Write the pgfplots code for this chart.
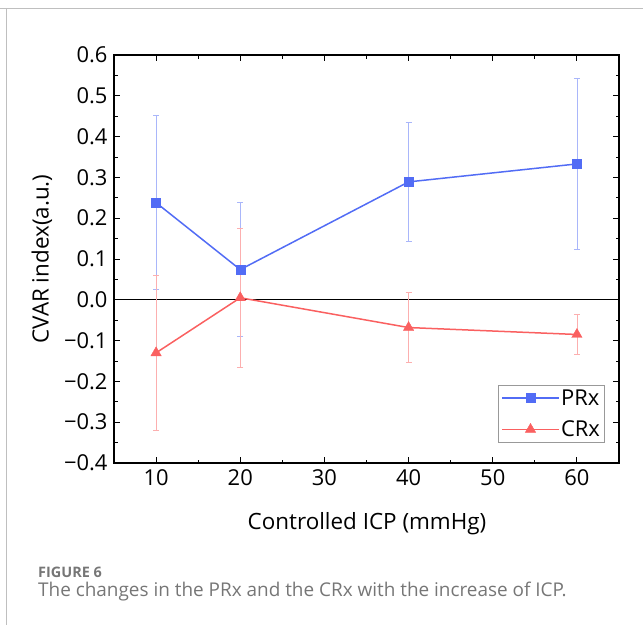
\documentclass[border=0pt]{standalone}
\usepackage{pgfplots}
\pgfplotsset{compat=1.18}
\usepackage{fontspec}
\setmainfont{Open Sans}
\definecolor{cblue}{RGB}{82,108,245}
\definecolor{cred}{RGB}{250,96,96}
\definecolor{capgray}{RGB}{118,118,118}
\begin{document}
\begin{tikzpicture}
\useasboundingbox (0,0) rectangle (643bp,-625bp);
\draw[black!25, line width=1bp] (0,-8.5bp) -- (643bp,-8.5bp);
\draw[black!25, line width=1bp] (6.5bp,-8.5bp) -- (6.5bp,-625bp);
\begin{axis}[
  at={(114bp,-463bp)}, anchor=south west, scale only axis,
  width=505bp, height=408bp,
  xmin=5, xmax=65, ymin=-0.4, ymax=0.6,
  xtick={10,20,30,40,50,60}, minor xtick={15,25,35,45,55},
  ytick={-0.4,-0.3,-0.2,-0.1,0,0.1,0.2,0.3,0.4,0.5,0.6},
  yticklabels={−0.4,−0.3,−0.2,−0.1,0.0,0.1,0.2,0.3,0.4,0.5,0.6},
  minor ytick={-0.35,-0.25,-0.15,-0.05,0.05,0.15,0.25,0.35,0.45,0.55},
  tick align=inside, major tick length=6bp, minor tick length=3.5bp,
  every tick/.style={black, line width=1bp},
  axis line style={line width=1.2bp},
  ticklabel style={font=\fontsize{22}{26}\selectfont},
  xticklabel style={yshift=-3bp},
  yticklabel style={xshift=-3bp},
  /pgf/number format/assume math mode=true,
  legend style={at={(0.972,0.049)}, anchor=south east, draw=black!40, line width=0.8bp,
    font=\fontsize{22}{26}\selectfont, row sep=11bp, inner sep=3bp,
    nodes={inner sep=1.5bp}},
  legend cell align=left,
  legend image code/.code={\draw[mark repeat=2, mark phase=2, #1] plot coordinates {(0cm,0cm) (1cm,0cm) (2cm,0cm)};},
]
\addplot[black, line width=0.9bp, forget plot] coordinates {(5,0) (65,0)};
\addplot[cblue, line width=1.5bp, mark=square*, mark size=4.5bp, mark options={solid, line width=0.4bp},
  error bars/.cd, y dir=both, y explicit,
  error bar style={cblue!50, line width=0.8bp},
  error mark options={cblue!50, rotate=90, mark size=3bp, line width=0.8bp}]
  coordinates {
  (10,0.238) +- (0,0.213)
  (20,0.074) +- (0,0.164)
  (40,0.289) +- (0,0.147)
  (60,0.333) +- (0,0.210)
  };
\addlegendentry{PRx}
\addplot[cred, line width=1.5bp, mark=triangle*, mark size=6bp, mark options={solid, line width=0.4bp},
  error bars/.cd, y dir=both, y explicit,
  error bar style={cred!50, line width=0.8bp},
  error mark options={cred!50, rotate=90, mark size=3bp, line width=0.8bp}]
  coordinates {
  (10,-0.130) +- (0,0.189)
  (20,0.005) +- (0,0.170)
  (40,-0.068) +- (0,0.085)
  (60,-0.085) +- (0,0.050)
  };
\addlegendentry{CRx}
\end{axis}
\node[rotate=90, font=\fontsize{22.5}{26}\selectfont] at (42bp,-259bp) {CVAR index(a.u.)};
\node[font=\fontsize{22.5}{26}\selectfont] at (367bp,-524bp) {Controlled ICP (mmHg)};
\node[anchor=base west, text=capgray, font=\fontsize{14.5}{17}\selectfont\bfseries, inner sep=0pt] at (38bp,-577bp) {FIGURE 6};
\node[anchor=base west, text=capgray, font=\fontsize{19}{22}\selectfont, inner sep=0pt] at (38bp,-596bp) {The changes in the PRx and the CRx with the increase of ICP.};
\end{tikzpicture}
\end{document}
